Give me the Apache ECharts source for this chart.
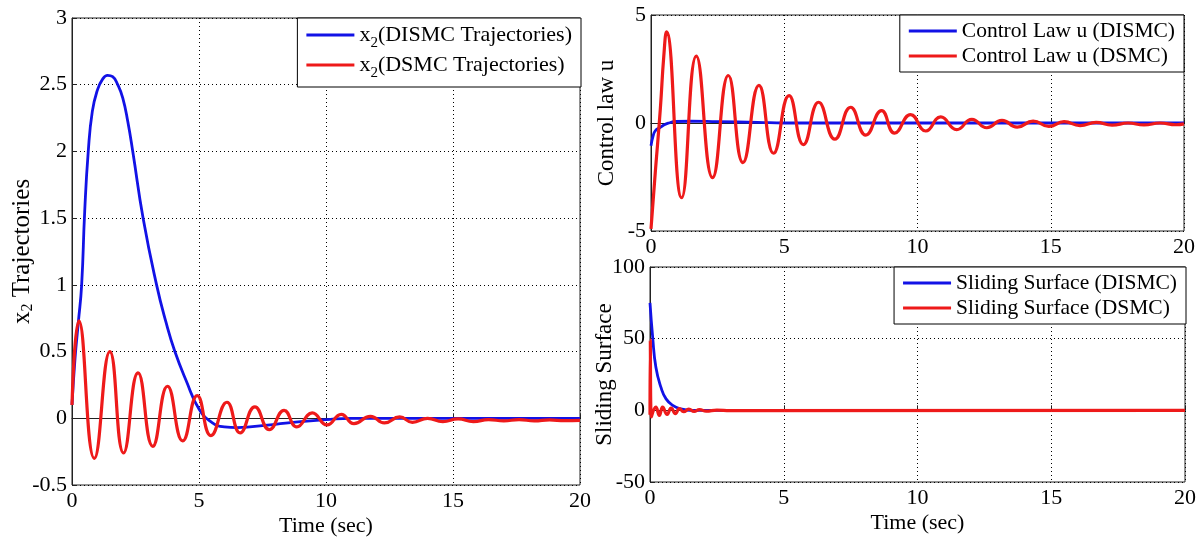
<!DOCTYPE html>
<html>
<head>
<meta charset="utf-8">
<script src="https://cdn.jsdelivr.net/npm/echarts@6/dist/echarts.min.js"></script>
<style>
  html, body { margin: 0; padding: 0; background: #fff; }
  #chart { width: 1203px; height: 541px; }
</style>
</head>
<body>
<div id="chart"></div>
<script>
// x2 trajectories (left panel)
const x2DismcT = [0, 0.12, 0.25, 0.38, 0.5, 0.64, 0.8, 1.0, 1.2, 1.4, 1.6, 1.8, 2.0, 2.2, 2.4, 2.8, 3.33, 3.7, 4.05, 4.5, 5.0, 5.5, 6.0, 6.5, 7.0, 8.0, 9.0, 10.0, 11.0, 20];
const x2DismcV = [0.1, 0.45, 0.72, 1.0, 1.55, 2.0, 2.3, 2.46, 2.54, 2.57, 2.56, 2.5, 2.4, 2.22, 1.99, 1.5, 1.0, 0.72, 0.5, 0.28, 0.07, -0.03, -0.065, -0.07, -0.065, -0.045, -0.025, -0.01, 0, 0];
const x2DsmcT = [0, 0.27, 0.88, 1.49, 2.03, 2.6, 3.18, 3.76, 4.36, 4.93, 5.47, 6.1, 6.62, 7.2, 7.77, 8.35, 8.85, 9.46, 10.04, 10.6, 11.1, 11.75, 12.3, 12.9, 13.4, 14.0, 14.6, 15.2, 15.8, 16.4, 17.0, 17.6, 18.2, 18.8, 19.4, 20];
const x2DsmcV = [0.1, 0.73, -0.3, 0.5, -0.26, 0.34, -0.21, 0.24, -0.17, 0.17, -0.13, 0.12, -0.11, 0.085, -0.085, 0.06, -0.065, 0.04, -0.05, 0.03, -0.04, 0.015, -0.035, 0.01, -0.03, 0.0, -0.025, -0.005, -0.025, -0.01, -0.02, -0.01, -0.02, -0.012, -0.018, -0.015];

// control law u (top right)
const uDismcT = [0, 0.08, 0.16, 0.35, 0.5, 0.67, 0.92, 1.5, 2.5, 4, 5, 20];
const uDismcV = [-1.05, -0.6, -0.36, -0.2, -0.08, 0.0, 0.07, 0.08, 0.06, 0.03, 0.0, 0.0];
const uDsmcT = [0, 0.16, 0.35, 0.48, 0.58, 1.15, 1.7, 2.31, 2.9, 3.45, 4.05, 4.6, 5.18, 5.72, 6.29, 6.9, 7.49, 8.06, 8.65, 9.14, 9.74, 10.31, 10.87, 11.47, 12.04, 12.6, 13.17, 13.74, 14.34, 14.93, 15.5, 16.1, 16.7, 17.3, 17.9, 18.5, 19.1, 19.7, 20];
const uDsmcV = [-4.9, -2.3, 0.65, 3.1, 4.22, -3.46, 3.1, -2.53, 2.2, -1.83, 1.74, -1.4, 1.27, -1.0, 0.96, -0.75, 0.73, -0.56, 0.57, -0.47, 0.39, -0.37, 0.28, -0.31, 0.17, -0.22, 0.12, -0.19, 0.09, -0.16, 0.06, -0.12, 0.03, -0.1, 0.0, -0.09, 0.0, -0.08, -0.04];

// sliding surface (bottom right)
const sDismcT = [0, 0.1, 0.22, 0.41, 0.6, 0.85, 1.16, 1.5, 2, 20];
const sDismcV = [75, 51, 30, 16, 8, 3.5, 1, 0, 0, 0];
const sDsmcT = [0, 0.01, 0.05, 0.22, 0.35, 0.47, 0.64, 0.79, 0.95, 1.1, 1.26, 1.45, 1.65, 1.85, 2.1, 2.5, 3, 20];
const sDsmcV = [-3, 49, -4.6, 2.3, -3.5, 2.3, -2.8, 1.6, -2.3, 1.2, -1.0, 0.8, -0.8, 0.5, -0.6, 0.2, -0.2, 0];

const timeTicks = [0, 20, 5];

const FONT = 'Liberation Serif';
const BLUE = '#1212e6';
const RED = '#ee1a1a';

const zip = (t, v) => t.map((x, i) => [x, v[i]]);

// rich text styles, 's' draws the subscript "2"
const richName = {
    a: { fontFamily: FONT, fontSize: 23, color: '#000', lineHeight: 26, verticalAlign: 'middle' },
    b: { fontFamily: FONT, fontSize: 25, color: '#000', lineHeight: 28, verticalAlign: 'middle' },
    s: { fontFamily: FONT, fontSize: 16, color: '#000', lineHeight: 14, verticalAlign: 'bottom' }
};
const richSub = {
    a: { fontFamily: FONT, fontSize: 22, color: '#000', lineHeight: 32, verticalAlign: 'middle' },
    s: { fontFamily: FONT, fontSize: 15, color: '#000', lineHeight: 16, verticalAlign: 'bottom' }
};
const richPlain = {
    a: { fontFamily: FONT, fontSize: 21.5, color: '#000', lineHeight: 26, verticalAlign: 'middle' }
};

function xAxis(gridIndex, name) {
    return {
        type: 'value', gridIndex,
        min: timeTicks[0], max: timeTicks[1], interval: timeTicks[2],
        name, nameLocation: 'middle', nameGap: 30, nameMoveOverlap: false,
        nameTextStyle: { fontFamily: FONT, fontSize: 22, color: '#000' },
        axisLine: { lineStyle: { color: '#222', width: 1 } },
        axisTick: { inside: true, length: 5, lineStyle: { color: '#222' } },
        axisLabel: { fontFamily: FONT, fontSize: 22, color: '#000', margin: 5 },
        splitLine: { show: true, lineStyle: { color: '#000', type: [1, 3], width: 1 } }
    };
}

function yAxis(gridIndex, min, max, interval, name, gap) {
    return {
        type: 'value', gridIndex, min, max, interval,
        name, nameLocation: 'middle', nameGap: gap, nameMoveOverlap: false,
        nameTextStyle: { fontFamily: FONT, fontSize: 23, color: '#000', rich: richName },
        axisLine: { lineStyle: { color: '#222', width: 1 } },
        axisTick: { inside: true, length: 5, lineStyle: { color: '#222' } },
        axisLabel: { fontFamily: FONT, fontSize: 22, color: '#000', margin: 5 },
        splitLine: { show: true, lineStyle: { color: '#000', type: [1, 3], width: 1 } }
    };
}

function legend(names, right, top, rich, pad) {
    return {
        data: names, orient: 'vertical', right, top,
        backgroundColor: '#fff', borderColor: '#000', borderWidth: 1, borderRadius: 0,
        padding: pad, itemGap: 3, itemWidth: 48, itemHeight: 3, icon: 'rect',
        textStyle: { fontFamily: FONT, fontSize: 22, color: '#000', rich },
        formatter: n => labels[n]
    };
}

const labels = {
    'x2 DISMC': '{a|x}{s|2}{a|(DISMC Trajectories)}',
    'x2 DSMC': '{a|x}{s|2}{a|(DSMC Trajectories)}',
    'u DISMC': '{a|Control Law u (DISMC)}',
    'u DSMC': '{a|Control Law u (DSMC)}',
    's DISMC': '{a|Sliding Surface (DISMC)}',
    's DSMC': '{a|Sliding Surface (DSMC)}'
};

function line(name, idx, data, color, width) {
    return {
        name, type: 'line', xAxisIndex: idx, yAxisIndex: idx,
        data, symbol: 'none', smooth: true, animation: false,
        lineStyle: { color, width }, itemStyle: { color }
    };
}

const gridBase = { show: true, borderColor: '#222', borderWidth: 1, backgroundColor: 'transparent', outerBoundsMode: 'none', containLabel: false };

let myChart = echarts.init(document.getElementById('chart'));
let option = {
    animation: false,
    grid: [
        Object.assign({ left: 72, top: 18, width: 508, height: 467 }, gridBase),
        Object.assign({ left: 651, top: 15, width: 533, height: 216 }, gridBase),
        Object.assign({ left: 650, top: 267, width: 535, height: 215 }, gridBase)
    ],
    legend: [
        legend(['x2 DISMC', 'x2 DSMC'], 622, 18, richSub, [6, 9, 6, 9]),
        legend(['u DISMC', 'u DSMC'], 19, 15, richPlain, [5, 9, 5, 9]),
        legend(['s DISMC', 's DSMC'], 17, 267, richPlain, [5, 9, 5, 9])
    ],
    xAxis: [xAxis(0, 'Time (sec)'), xAxis(1, ''), xAxis(2, 'Time (sec)')],
    yAxis: [
        yAxis(0, -0.5, 3, 0.5, '{b|x}{s|2}{b| Trajectories}', 36),
        yAxis(1, -5, 5, 5, '{a|Control law u}', 31),
        yAxis(2, -50, 100, 50, '{a|Sliding Surface}', 32)
    ],
    series: [
        line('x2 DISMC', 0, zip(x2DismcT, x2DismcV), BLUE, 2.8),
        line('x2 DSMC', 0, zip(x2DsmcT, x2DsmcV), RED, 3.2),
        line('u DISMC', 1, zip(uDismcT, uDismcV), BLUE, 2.8),
        line('u DSMC', 1, zip(uDsmcT, uDsmcV), RED, 3.2),
        line('s DISMC', 2, zip(sDismcT, sDismcV), BLUE, 2.8),
        line('s DSMC', 2, zip(sDsmcT, sDsmcV), RED, 3.2)
    ]
};
myChart.setOption(option);
</script>
</body>
</html>
